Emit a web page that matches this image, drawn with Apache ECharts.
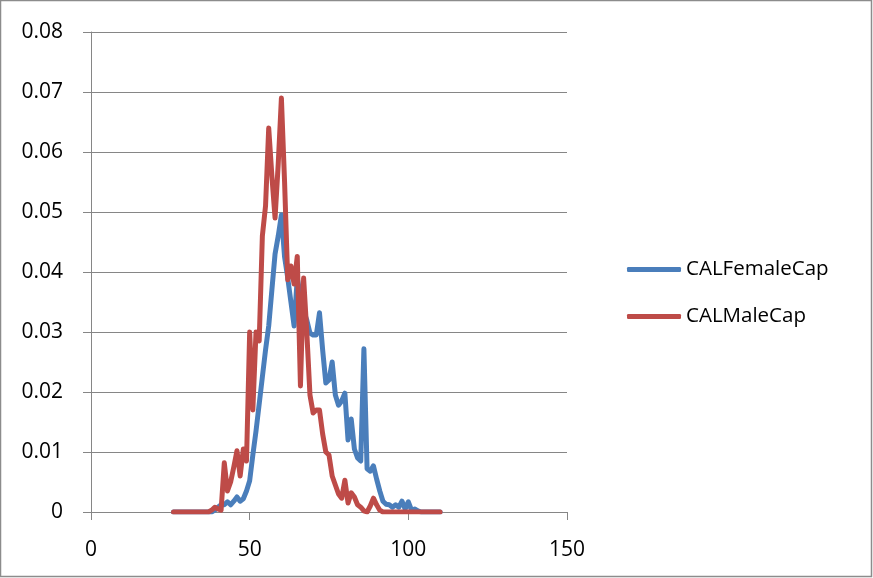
<!DOCTYPE html>
<html>
<head>
<meta charset="utf-8">
<script src="https://cdn.jsdelivr.net/npm/echarts@6/dist/echarts.min.js"></script>
<style>
html,body{margin:0;padding:0;background:#fff;}
#c{width:873px;height:578px;}
</style>
</head>
<body>
<div id="c"></div>
<script>
var lengths = [26,27,28,29,30,31,32,33,34,35,36,37,38,39,40,41,42,43,44,45,46,47,48,49,50,51,52,53,54,55,56,57,58,59,60,61,62,63,64,65,66,67,68,69,70,71,72,73,74,75,76,77,78,79,80,81,82,83,84,85,86,87,88,89,90,91,92,93,94,95,96,97,98,99,100,101,102,103,104,105,106,107,108,109,110];
var femaleCap = [0,0,0,0,0,0,0,0,0,0,0,0,0,0.0003,0.0008,0.0012,0.0012,0.0017,0.0012,0.0018,0.0025,0.0018,0.0022,0.0035,0.0052,0.0095,0.0135,0.018,0.0225,0.027,0.031,0.037,0.043,0.046,0.0495,0.0425,0.039,0.035,0.031,0.039,0.036,0.0335,0.032,0.0298,0.0295,0.0295,0.0332,0.027,0.0215,0.022,0.025,0.0195,0.0178,0.0185,0.0198,0.012,0.0155,0.0105,0.009,0.0085,0.0272,0.0072,0.0068,0.0077,0.0055,0.0035,0.0018,0.0013,0.0012,0.0008,0.0012,0.0008,0.0018,0.0005,0.0017,0.0003,0.0005,0.0002,0,0,0,0,0,0,0];
var maleCap = [0,0,0,0,0,0,0,0,0,0,0,0,0.0003,0.0008,0.0005,0.0003,0.0082,0.0035,0.005,0.0075,0.0102,0.006,0.0105,0.0085,0.030,0.017,0.030,0.0285,0.046,0.051,0.064,0.056,0.049,0.058,0.069,0.055,0.0387,0.041,0.038,0.0426,0.021,0.039,0.03,0.0195,0.0165,0.017,0.017,0.013,0.01,0.0095,0.006,0.0045,0.003,0.0023,0.0053,0.0015,0.0032,0.0025,0.0012,0.0008,0.0002,0,0.001,0.0023,0.0012,0.0003,0,0,0,0,0,0,0,0,0,0,0,0,0,0,0,0,0,0,0];
var seriesNames = ['CALFemaleCap','CALMaleCap'];
var xTicks = [0,50,100,150];

function pairs(xs, ys){ var out=[]; for(var i=0;i<xs.length;i++){ out.push([xs[i], ys[i]]); } return out; }

var chart = echarts.init(document.getElementById('c'), null, {renderer:'canvas'});
var font = '"Open Sans", "Noto Sans", sans-serif';
chart.setOption({
  animation:false,
  backgroundColor:'#fff',
  textStyle:{fontFamily:font},
  graphic:[{type:'rect', shape:{x:0.5,y:0.5,width:871,height:576}, style:{fill:'none', stroke:'#8c8c8c', lineWidth:1.5}, silent:true}],
  grid:{left:91, right:306, top:32, bottom:66, containLabel:false},
  legend:{
    orient:'vertical', left:622, top:254, itemGap:26, itemWidth:54, itemHeight:5,
    icon:'roundRect',
    data:seriesNames,
    textStyle:{fontFamily:font, fontSize:20.5, color:'#000', padding:[0,0,0,0]}
  },
  xAxis:{
    type:'value', min:0, max:150, interval:50,
    axisLine:{show:true, lineStyle:{color:'#868686', width:1}},
    axisTick:{show:true, length:8, inside:false, lineStyle:{color:'#868686'}},
    axisLabel:{fontFamily:font, fontSize:21, color:'#000', margin:28, formatter:function(v){return xTicks.indexOf(v)>=0? String(v):'';}},
    splitLine:{show:false}
  },
  yAxis:{
    type:'value', min:0, max:0.08, interval:0.01,
    axisLine:{show:true, lineStyle:{color:'#868686', width:1}},
    axisTick:{show:true, length:8, lineStyle:{color:'#868686'}},
    axisLabel:{fontFamily:font, fontSize:21, color:'#000', margin:28},
    splitLine:{show:true, lineStyle:{color:'#868686', width:1}}
  },
  series:[
    {name:seriesNames[0], type:'line', data:pairs(lengths, femaleCap), showSymbol:false, symbol:'none',
     lineStyle:{color:'#4A7EBB', width:5, cap:'round', join:'round'}, itemStyle:{color:'#4A7EBB'}},
    {name:seriesNames[1], type:'line', data:pairs(lengths, maleCap), showSymbol:false, symbol:'none',
     lineStyle:{color:'#BE4B48', width:5, cap:'round', join:'round'}, itemStyle:{color:'#BE4B48'}}
  ]
});
</script>
</body>
</html>
